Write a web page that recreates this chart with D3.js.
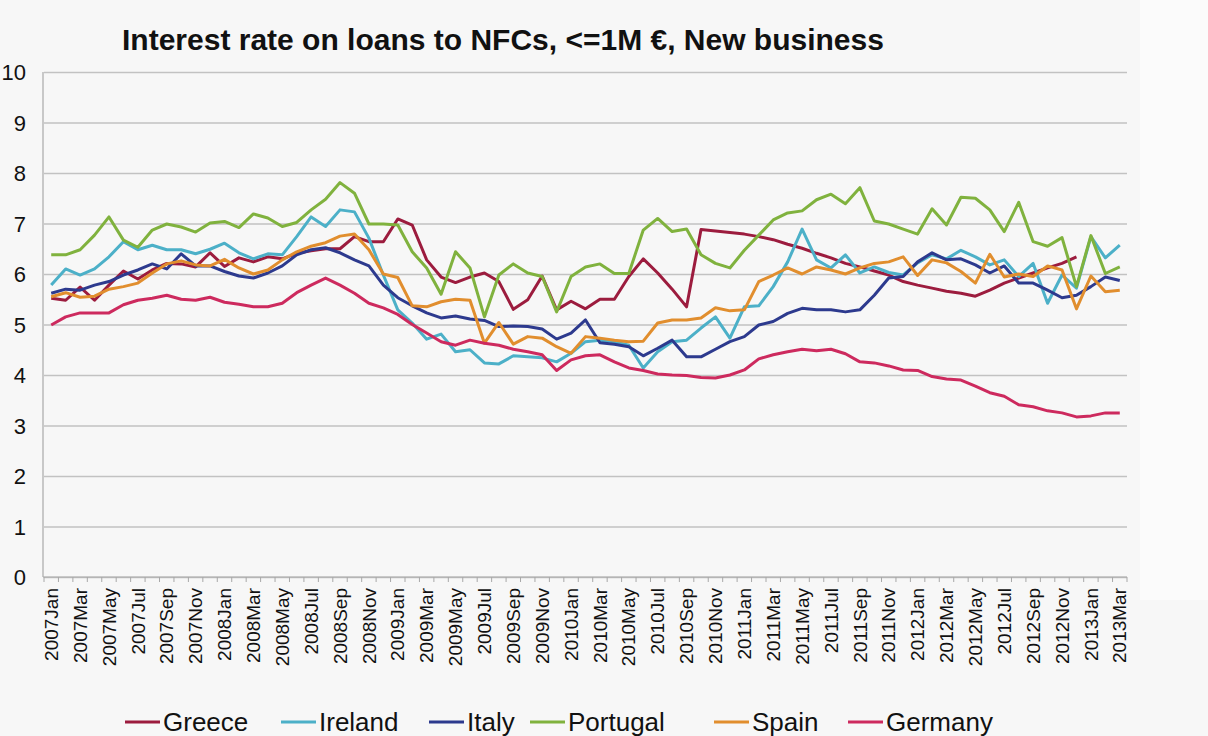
<!DOCTYPE html>
<html>
<head>
<meta charset="utf-8">
<script src="https://cdn.jsdelivr.net/npm/d3@7"></script>
<style>
  body { margin: 0; background: #f7f7f7; }
  text { font-family: "Liberation Sans", Arial, sans-serif; fill: #111; }
</style>
</head>
<body>
<script>
// categories: monthly, 2007Jan .. 2013Mar
var years = [2007, 2008, 2009, 2010, 2011, 2012, 2013];
var monthNames = ["Jan","Feb","Mar","Apr","May","Jun","Jul","Aug","Sep","Oct","Nov","Dec"];
var months = [];
years.forEach(function(y) {
  monthNames.forEach(function(m, i) {
    if (y < 2013 || i < 3) months.push(y + m);
  });
});

var yTicks = [0, 1, 2, 3, 4, 5, 6, 7, 8, 9, 10];

var greece = [
  5.52, 5.48, 5.74, 5.48, 5.78, 6.06, 5.90, 6.08, 6.21, 6.20, 6.14, 6.42,
  6.15, 6.32, 6.24, 6.34, 6.30, 6.41, 6.46, 6.50, 6.50, 6.74, 6.64, 6.64,
  7.09, 6.97, 6.28, 5.94, 5.83, 5.94, 6.02, 5.85, 5.30, 5.49, 5.96, 5.29,
  5.46, 5.31, 5.50, 5.50, 5.95, 6.30, 6.02, 5.70, 5.35, 6.88, 6.85, 6.82,
  6.79, 6.74, 6.68, 6.59, 6.51, 6.41, 6.32, 6.21, 6.14, 6.06, 5.98, 5.85,
  5.78, 5.72, 5.66, 5.62, 5.56, 5.68, 5.82, 5.92, 6.02, 6.12, 6.21, 6.34,
  null, null, null];
var ireland = [
  5.78, 6.10, 5.98, 6.10, 6.34, 6.64, 6.48, 6.57, 6.48, 6.48, 6.40, 6.49,
  6.61, 6.42, 6.30, 6.40, 6.38, 6.74, 7.13, 6.94, 7.27, 7.23, 6.71, 5.98,
  5.29, 5.03, 4.71, 4.81, 4.46, 4.50, 4.24, 4.22, 4.38, 4.36, 4.34, 4.26,
  4.43, 4.66, 4.69, 4.66, 4.59, 4.14, 4.46, 4.66, 4.69, 4.93, 5.15, 4.73,
  5.35, 5.37, 5.75, 6.24, 6.89, 6.28, 6.12, 6.38, 6.02, 6.14, 6.03, 5.98,
  6.22, 6.38, 6.30, 6.47, 6.34, 6.18, 6.28, 5.95, 6.21, 5.42, 5.98, 5.72,
  6.74, 6.32, 6.57];
var italy = [
  5.62, 5.70, 5.68, 5.78, 5.85, 5.98, 6.08, 6.20, 6.10, 6.40, 6.16, 6.16,
  6.05, 5.96, 5.92, 6.02, 6.16, 6.38, 6.48, 6.52, 6.42, 6.28, 6.16, 5.78,
  5.53, 5.37, 5.23, 5.13, 5.17, 5.11, 5.08, 4.96, 4.97, 4.96, 4.91, 4.71,
  4.83, 5.09, 4.64, 4.61, 4.56, 4.38, 4.53, 4.69, 4.36, 4.36, 4.51, 4.66,
  4.76, 4.99, 5.06, 5.22, 5.32, 5.29, 5.29, 5.25, 5.29, 5.58, 5.92, 5.95,
  6.24, 6.42, 6.28, 6.30, 6.18, 6.02, 6.16, 5.82, 5.82, 5.68, 5.53, 5.58,
  5.75, 5.94, 5.87];
var portugal = [
  6.38, 6.38, 6.48, 6.77, 7.13, 6.67, 6.53, 6.87, 6.99, 6.93, 6.83, 7.01,
  7.04, 6.92, 7.19, 7.11, 6.94, 7.02, 7.27, 7.48, 7.81, 7.60, 6.99, 6.99,
  6.97, 6.44, 6.12, 5.60, 6.44, 6.12, 5.15, 5.98, 6.20, 6.02, 5.95, 5.25,
  5.95, 6.14, 6.20, 6.01, 6.01, 6.87, 7.10, 6.84, 6.89, 6.38, 6.21, 6.12,
  6.47, 6.77, 7.07, 7.21, 7.25, 7.47, 7.58, 7.39, 7.71, 7.05, 6.99, 6.89,
  6.79, 7.29, 6.97, 7.52, 7.50, 7.27, 6.84, 7.42, 6.64, 6.55, 6.72, 5.75,
  6.76, 6.01, 6.14];
var spain = [
  5.55, 5.63, 5.54, 5.56, 5.70, 5.75, 5.82, 6.02, 6.20, 6.26, 6.18, 6.16,
  6.29, 6.12, 6.00, 6.08, 6.28, 6.44, 6.55, 6.62, 6.75, 6.79, 6.48, 6.00,
  5.93, 5.37, 5.35, 5.45, 5.50, 5.48, 4.63, 5.04, 4.61, 4.76, 4.73, 4.56,
  4.43, 4.76, 4.73, 4.69, 4.66, 4.67, 5.03, 5.09, 5.09, 5.13, 5.33, 5.27,
  5.29, 5.85, 5.98, 6.12, 6.00, 6.14, 6.08, 6.00, 6.12, 6.21, 6.24, 6.34,
  5.97, 6.28, 6.22, 6.05, 5.82, 6.39, 5.94, 6.00, 5.95, 6.16, 6.08, 5.31,
  5.96, 5.65, 5.68];
var germany = [
  4.99, 5.15, 5.23, 5.23, 5.23, 5.39, 5.48, 5.52, 5.58, 5.50, 5.48, 5.54,
  5.44, 5.40, 5.35, 5.35, 5.42, 5.63, 5.78, 5.92, 5.78, 5.62, 5.42, 5.33,
  5.20, 5.00, 4.83, 4.66, 4.59, 4.69, 4.63, 4.59, 4.51, 4.46, 4.40, 4.09,
  4.30, 4.38, 4.40, 4.26, 4.14, 4.09, 4.02, 4.00, 3.99, 3.95, 3.94, 4.00,
  4.10, 4.32, 4.40, 4.46, 4.51, 4.48, 4.51, 4.42, 4.26, 4.24, 4.18, 4.10,
  4.09, 3.97, 3.92, 3.90, 3.78, 3.65, 3.58, 3.41, 3.37, 3.29, 3.25, 3.17,
  3.19, 3.25, 3.25];

var seriesNames = ["Greece", "Ireland", "Italy", "Portugal", "Spain", "Germany"];
var seriesValues = [greece, ireland, italy, portugal, spain, germany];
var seriesColors = ["#9c1c3e", "#4cb0c8", "#2d3a8e", "#80b23e", "#e18e2e", "#cd2a5e"];

function drawChart() {
  var width = 1208, height = 736;
  // plot box in page pixels
  var plot = {left: 44, right: 1127, top: 72, bottom: 577};

  var svg = d3.select("body").append("svg")
      .attr("width", width)
      .attr("height", height);

  svg.append("rect").attr("width", width).attr("height", height).attr("fill", "#f7f7f7");
  svg.append("rect").attr("x", 1140).attr("width", width - 1140).attr("height", 600).attr("fill", "#fbfbfb");

  var x = d3.scaleBand().domain(months).range([plot.left, plot.right]).padding(0);
  var y = d3.scaleLinear().domain([0, 10]).range([plot.bottom, plot.top]);

  // horizontal gridlines + y labels
  var yAxis = svg.append("g")
      .attr("transform", "translate(" + plot.left + ",0)")
      .call(d3.axisLeft(y).tickValues(yTicks).tickSize(-(plot.right - plot.left)).tickFormat(d3.format("d")));
  yAxis.select(".domain").remove();
  yAxis.selectAll(".tick line").attr("stroke", "#c2c2c2").attr("stroke-width", 1.6);
  yAxis.selectAll(".tick text")
      .attr("x", -18)
      .attr("dy", "0.36em")
      .style("font-size", "22px");

  // vertical axis line
  svg.append("line")
      .attr("x1", plot.left - 1).attr("x2", plot.left - 1)
      .attr("y1", plot.top).attr("y2", plot.bottom)
      .attr("stroke", "#a8a8a8").attr("stroke-width", 1.2);

  // x axis: line, tick marks between categories, labels every other month
  svg.append("line")
      .attr("x1", plot.left - 1).attr("x2", plot.right)
      .attr("y1", plot.bottom).attr("y2", plot.bottom)
      .attr("stroke", "#a8a8a8").attr("stroke-width", 1.2);

  svg.append("g").selectAll("line")
      .data(months.concat(["end"]))
    .enter().append("line")
      .attr("x1", function(d, i) { return plot.left + i * x.step(); })
      .attr("x2", function(d, i) { return plot.left + i * x.step(); })
      .attr("y1", plot.bottom)
      .attr("y2", plot.bottom + 5)
      .attr("stroke", "#a8a8a8");

  var xAxis = svg.append("g")
      .attr("transform", "translate(0," + plot.bottom + ")")
      .call(d3.axisBottom(x).tickValues(months.filter(function(d, i) { return i % 2 === 0; })).tickSize(0));
  xAxis.select(".domain").remove();
  xAxis.selectAll(".tick text")
      .attr("transform", "rotate(-90)")
      .attr("x", -11)
      .attr("y", 0)
      .attr("dy", "0.35em")
      .style("text-anchor", "end")
      .style("font-size", "19px");

  // lines
  var line = d3.line()
      .defined(function(d) { return d != null; })
      .x(function(d, i) { return x(months[i]) + x.bandwidth() / 2; })
      .y(function(d) { return y(d); });

  svg.append("g").selectAll("path")
      .data(seriesValues)
    .enter().append("path")
      .attr("fill", "none")
      .attr("stroke", function(d, i) { return seriesColors[i]; })
      .attr("stroke-width", 3)
      .attr("stroke-linejoin", "round")
      .attr("d", line);

  // title
  svg.append("text")
      .attr("x", 122)
      .attr("y", 50)
      .style("font-size", "30px")
      .style("font-weight", "bold")
      .text("Interest rate on loans to NFCs, <=1M \u20ac, New business");

  // legend
  var legendX = [125, 281, 429, 530, 714, 848];
  var legend = svg.append("g").selectAll("g")
      .data(seriesNames)
    .enter().append("g")
      .attr("transform", function(d, i) { return "translate(" + legendX[i] + ",722)"; });
  legend.append("line")
      .attr("x1", 0).attr("x2", 35)
      .attr("stroke", function(d, i) { return seriesColors[i]; })
      .attr("stroke-width", 3);
  legend.append("text")
      .attr("x", 38)
      .attr("dy", "0.36em")
      .style("font-size", "26px")
      .text(function(d) { return d; });
}

drawChart();
</script>
</body>
</html>
